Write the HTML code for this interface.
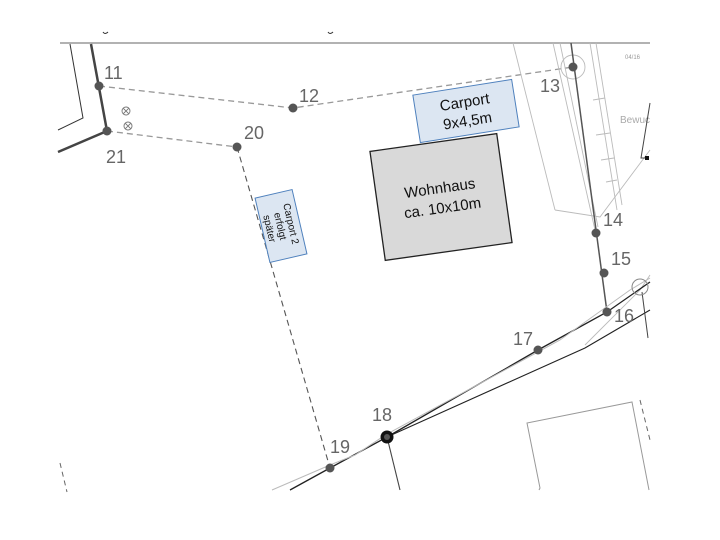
<!DOCTYPE html>
<html><head><meta charset="utf-8"><style>
html,body{margin:0;padding:0;background:#fff;}
svg{display:block;}
text{font-family:"Liberation Sans",sans-serif;}
</style></head><body>
<svg width="720" height="540" viewBox="0 0 720 540" xmlns="http://www.w3.org/2000/svg">
<rect width="720" height="540" fill="#fff"/>
<line x1="60" y1="43" x2="650" y2="43" stroke="#999" stroke-width="1.5"/>
<path d="M103 32 q2 3 5 0" stroke="#333" fill="none"/>
<path d="M328 32 q2 3 5 0" stroke="#333" fill="none"/>
<polyline points="70,44 83,118 58,130" stroke="#333" fill="none" stroke-width="1"/>
<polyline points="91,44 107,131 58,152" stroke="#444" fill="none" stroke-width="2.5"/>
<g stroke="#999" stroke-width="1.3" fill="none" stroke-dasharray="6,4">
<polyline points="99,86 293,108 573,67"/>
<polyline points="107,131 237,147"/>
</g>
<polyline points="237,147 330,468" stroke="#555" stroke-width="1.1" fill="none" stroke-dasharray="6,4"/>
<line x1="60" y1="463" x2="67" y2="492" stroke="#666" stroke-dasharray="5,4"/>
<g stroke="#777" fill="none" stroke-width="0.9">
<circle cx="126" cy="111" r="4"/><path d="M123 108l6 6M129 108l-6 6"/>
<circle cx="128" cy="126" r="4"/><path d="M125 123l6 6M131 123l-6 6"/>
</g>
<g stroke="#bbb" stroke-width="0.9" fill="none">
<line x1="553" y1="43" x2="595" y2="230"/>
<line x1="560" y1="43" x2="598" y2="227"/>
<line x1="590" y1="43" x2="617" y2="210"/>
<line x1="596" y1="43" x2="622" y2="205"/>
<line x1="513" y1="43" x2="555" y2="210"/>
<polyline points="555,210 600,217 650,150"/>
<line x1="593" y1="100" x2="605" y2="98"/>
<line x1="596" y1="135" x2="610" y2="133"/>
<line x1="601" y1="160" x2="614" y2="158"/>
<line x1="606" y1="182" x2="617" y2="180"/>
<circle cx="573" cy="67" r="12"/>
<polyline points="585,345 640,290 650,275"/>
</g>
<text x="625" y="59" font-size="6" fill="#999">04/16</text>
<text x="620" y="123" font-size="10" fill="#aaa">Bewuc</text>
<polyline points="650,103 641,158 648,158" stroke="#444" fill="none"/>
<rect x="645" y="156" width="4" height="4" fill="#111"/>
<line x1="571" y1="43" x2="607" y2="312" stroke="#555" stroke-width="1.5"/>
<polyline points="290,490 330,468 387,437 538,350 607,312 650,282" stroke="#222" stroke-width="1.3" fill="none"/>
<polyline points="387,437 585,348 650,310" stroke="#222" stroke-width="1.1" fill="none"/>
<polyline points="272,490 330,465 355,455 387,434 560,340 630,290 650,278" stroke="#bbb" stroke-width="1" fill="none"/>
<line x1="387" y1="437" x2="400" y2="490" stroke="#444" stroke-width="1.1"/>
<line x1="642" y1="292" x2="648" y2="338" stroke="#444"/>
<circle cx="640" cy="287" r="8" stroke="#888" fill="none"/>
<polyline points="539,490 540,488 527,423 632,402 649,490" stroke="#999" fill="none"/>
<line x1="640" y1="400" x2="650" y2="440" stroke="#666" stroke-dasharray="5,4"/>
<g fill="#555">
<circle cx="99" cy="86" r="4.5"/><circle cx="293" cy="108" r="4.5"/><circle cx="573" cy="67" r="4.5"/>
<circle cx="107" cy="131" r="4.5"/><circle cx="237" cy="147" r="4.5"/>
<circle cx="596" cy="233" r="4.5"/><circle cx="604" cy="273" r="4.5"/><circle cx="607" cy="312" r="4.5"/>
<circle cx="538" cy="350" r="4.5"/><circle cx="330" cy="468" r="4.5"/>
</g>
<circle cx="387" cy="437" r="6.5" fill="#111"/><circle cx="387" cy="437" r="3" fill="#555"/>
<g font-size="18" fill="#666">
<text x="104" y="79">11</text><text x="299" y="102">12</text><text x="540" y="92">13</text>
<text x="244" y="139">20</text><text x="106" y="163">21</text>
<text x="603" y="226">14</text><text x="611" y="265">15</text><text x="614" y="322">16</text>
<text x="513" y="345">17</text><text x="372" y="421">18</text><text x="330" y="453">19</text>
</g>
<g transform="translate(466,111) rotate(-9)">
<rect x="-50" y="-24" width="100" height="48" fill="#dce6f2" stroke="#4f81bd" stroke-width="1"/>
<text x="0" y="-4" font-size="15" text-anchor="middle" fill="#111">Carport</text>
<text x="0" y="15" font-size="15" text-anchor="middle" fill="#111">9x4,5m</text>
</g>
<g transform="translate(441,197) rotate(-8)">
<rect x="-64" y="-55" width="128" height="110" fill="#d9d9d9" stroke="#222" stroke-width="1.3"/>
<text x="0" y="-4" font-size="15" text-anchor="middle" fill="#111">Wohnhaus</text>
<text x="0" y="16" font-size="15" text-anchor="middle" fill="#111">ca. 10x10m</text>
</g>
<g transform="translate(281,226) rotate(77)">
<rect x="-33" y="-19" width="66" height="38" fill="#dce6f2" stroke="#4f81bd" stroke-width="1"/>
<text x="0" y="-7" font-size="10" text-anchor="middle" fill="#111">Carport 2</text>
<text x="0" y="4" font-size="10" text-anchor="middle" fill="#111">erfolgt</text>
<text x="0" y="15" font-size="10" text-anchor="middle" fill="#111">später</text>
</g>
</svg>
</body></html>
